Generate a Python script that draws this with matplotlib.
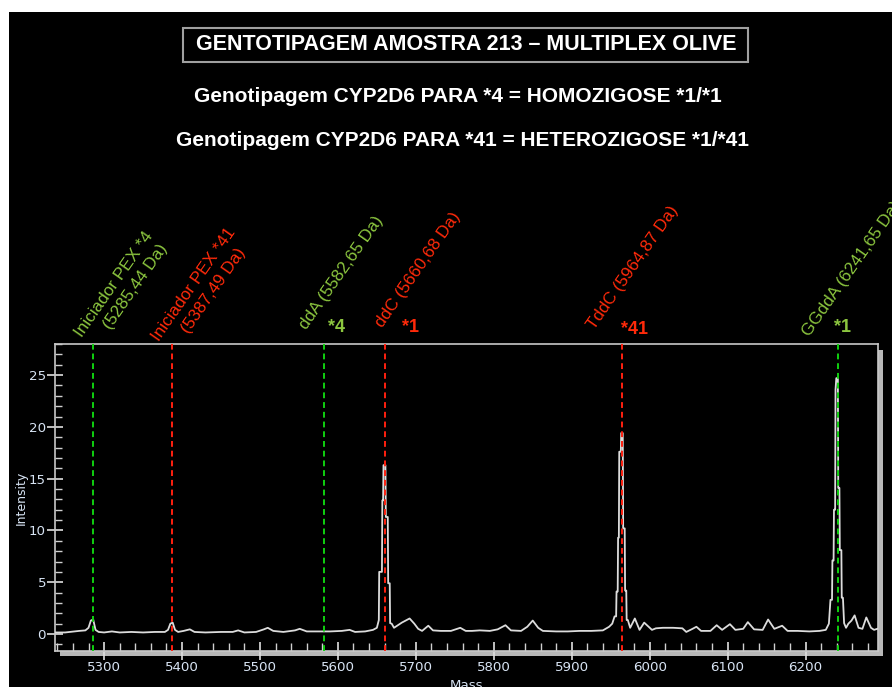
import matplotlib
matplotlib.use("Agg")
import matplotlib.pyplot as plt
from matplotlib.patches import Rectangle
from matplotlib.ticker import MultipleLocator

# ---------------- data ----------------
mass = [5237, 5250, 5268, 5276, 5280, 5283, 5286, 5289, 5293, 5300, 5310, 5320, 5335, 5350,
        5365, 5378, 5382, 5385, 5388, 5391, 5395, 5402, 5410, 5416, 5430, 5450, 5465, 5472,
        5480, 5495, 5505, 5510, 5517, 5530, 5545, 5551, 5560, 5575, 5590, 5605, 5615, 5622,
        5635, 5645,
        5650, 5652.5, 5653, 5656.5, 5657, 5658, 5658.5, 5661, 5661.5, 5664, 5664.5, 5666.5,
        5667, 5669, 5672,
        5676, 5682, 5687,
        5692, 5698, 5703, 5708, 5716, 5722, 5732, 5745, 5757, 5764, 5772, 5782, 5795, 5805,
        5815, 5822, 5835, 5843, 5850, 5857, 5863, 5880, 5895, 5910, 5925, 5940, 5948,
        5952, 5955, 5957, 5957.5, 5959, 5959.5, 5960.5, 5961, 5963, 5963.5, 5965.5, 5966,
        5968, 5968.5, 5970, 5970.5, 5972, 5975,
        5981, 5987, 5993, 6003, 6008,
        6017, 6030, 6042, 6047, 6055, 6060, 6066, 6078, 6086, 6093, 6103, 6110, 6120, 6126,
        6134, 6145, 6152, 6160, 6170, 6177, 6190, 6205, 6218,
        6226, 6230, 6232, 6234, 6234.5, 6236, 6236.5, 6238, 6238.5, 6239.5, 6241.5, 6242,
        6243.5, 6244, 6246, 6246.5, 6248, 6249.5, 6252,
        6255, 6259, 6263, 6268, 6273, 6278, 6284, 6288, 6292]
intensity = [0.15, 0.15, 0.3, 0.35, 0.6, 1.3, 1.4, 0.4, 0.2, 0.15, 0.25, 0.15, 0.2, 0.15,
             0.2, 0.2, 0.4, 1.0, 1.1, 0.4, 0.2, 0.3, 0.45, 0.2, 0.15, 0.2, 0.2, 0.35,
             0.15, 0.2, 0.45, 0.6, 0.3, 0.2, 0.35, 0.5, 0.25, 0.25, 0.25, 0.3, 0.4, 0.2,
             0.25, 0.4,
             0.6, 1.35, 6.0, 6.0, 12.9, 12.9, 16.3, 16.3, 11.3, 11.3, 4.9, 4.9,
             1.05, 1.0, 0.6,
             0.8, 1.1, 1.3,
             1.5, 1.0, 0.5, 0.3, 0.8, 0.35, 0.3, 0.3, 0.6, 0.3, 0.3, 0.35, 0.3, 0.45,
             0.85, 0.35, 0.3, 0.7, 1.3, 0.6, 0.3, 0.25, 0.25, 0.3, 0.3, 0.35, 0.7,
             1.0, 1.7, 1.7, 4.1, 4.1, 9.3, 9.3, 17.6, 17.6, 19.4, 19.4, 10.2,
             10.2, 4.2, 4.2, 1.35, 1.35, 0.6,
             1.5, 0.4, 1.1, 0.4, 0.55,
             0.6, 0.6, 0.55, 0.2, 0.5, 0.7, 0.3, 0.3, 0.85, 0.4, 0.95, 0.4, 0.5, 1.15,
             0.45, 0.4, 1.4, 0.5, 0.8, 0.3, 0.3, 0.25, 0.3,
             0.4, 1.0, 3.3, 3.3, 7.1, 7.1, 12.0, 12.0, 23.6, 24.7, 24.7, 14.1,
             14.1, 8.1, 8.1, 3.5, 3.5, 1.05, 0.6,
             1.0, 1.3, 1.8, 0.6, 0.5, 1.6, 0.6, 0.4, 0.5]

markers = [5285.44, 5387.49, 5582.65, 5660.68, 5964.87, 6241.65]
marker_kind = ["g", "r", "g", "r", "r", "g"]
marker_labels = ["Iniciador PEX *4\n(5285,44 Da)", "Iniciador PEX *41\n(5387,49 Da)",
                 "ddA (5582,65 Da)", "ddC (5660,68 Da)", "TddC (5964,87 Da)",
                 "GGddA (6241,65 Da)"]
allele_labels = ["", "", "*4", "*1", "*41", "*1"]

title = "GENTOTIPAGEM AMOSTRA 213 \u2013 MULTIPLEX OLIVE"
line2 = "Genotipagem CYP2D6 PARA *4 = HOMOZIGOSE *1/*1"
line3 = "Genotipagem CYP2D6 PARA *41 = HETEROZIGOSE *1/*41"

xticks_major = [5300, 5400, 5500, 5600, 5700, 5800, 5900, 6000, 6100, 6200]
yticks_major = [0, 5, 10, 15, 20, 25]

# ---------------- style ----------------
W, H = 892, 687
TXT_GREEN = "#8cc63f"
TXT_RED = "#ff2a0a"
LN_GREEN = "#10d010"
LN_RED = "#ff2010"
TICKCOL = "#d8e4f4"
FONT = "Liberation Sans"

fig = plt.figure(figsize=(W / 100, H / 100), dpi=100, facecolor="white")
fig.patches.append(Rectangle((9 / W, 0), 1, (H - 12) / H, transform=fig.transFigure,
                             facecolor="black", edgecolor="none", zorder=-5))

def fx(px):
    return px / W

def fy(py):
    return 1 - py / H

left, right, top, bottom = 55, 878, 344, 651
ax = fig.add_axes([fx(left), fy(bottom), fx(right - left), (bottom - top) / H])
ax.set_facecolor("black")
ax.set_xlim(5237, 6293)
ax.set_ylim(-1.64, 28.0)

# gray bars (3D shadow of frame)
fig.patches.append(Rectangle((fx(60), fy(656)), fx(883 - 60), 5 / H, transform=fig.transFigure,
                             facecolor="#b8b8b8", edgecolor="none", zorder=-1))
fig.patches.append(Rectangle((fx(878), fy(656)), fx(5), (656 - 350) / H, transform=fig.transFigure,
                             facecolor="#b8b8b8", edgecolor="none", zorder=-1))

for s in ax.spines.values():
    s.set_color("#c8c8c8")
    s.set_linewidth(1.2)

ax.plot(mass, intensity, color="#dcdcdc", lw=1.3, zorder=3)

for m, k in zip(markers, marker_kind):
    ax.axvline(m, color=LN_GREEN if k == "g" else LN_RED, lw=1.4,
               linestyle=(0, (3, 2)), zorder=4)

ax.xaxis.set_major_locator(MultipleLocator(100))
ax.xaxis.set_minor_locator(MultipleLocator(20))
ax.yaxis.set_major_locator(MultipleLocator(5))
ax.yaxis.set_minor_locator(MultipleLocator(1))
ax.set_xticks(xticks_major)
ax.set_yticks(yticks_major)
ax.tick_params(axis="both", which="major", direction="inout", color="#e0e0e0",
               labelcolor=TICKCOL, labelsize=9.6, width=1.2)
ax.tick_params(axis="x", which="major", length=13, pad=1)
ax.tick_params(axis="y", which="major", length=11, pad=1)
ax.tick_params(axis="both", which="minor", direction="in", color="#d0d0d0", width=1)
ax.tick_params(axis="x", which="minor", length=6)
ax.tick_params(axis="y", which="minor", length=5)
for lab in ax.get_xticklabels() + ax.get_yticklabels():
    lab.set_family("DejaVu Sans")

ax.set_ylabel("Intensity", color=TICKCOL, fontsize=9, labelpad=1)
ax.set_xlabel("Mass", color=TICKCOL, fontsize=9.6, labelpad=3)

# header texts
fig.patches.append(Rectangle((fx(183), fy(62)), fx(748 - 183), 34 / H, transform=fig.transFigure,
                             facecolor="none", edgecolor="#a0a0a0", lw=1.5, zorder=2))
fig.text(fx(466), fy(45), title, color="white", fontsize=15.5, fontweight="bold",
         family=FONT, ha="center", va="center")
fig.text(fx(458), fy(97), line2, color="white", fontsize=15, fontweight="bold",
         family=FONT, ha="center", va="center")
fig.text(fx(463), fy(140), line3, color="white", fontsize=15, fontweight="bold",
         family=FONT, ha="center", va="center")

# rotated annotations (offset in pixels from marker line at top of axes)
label_offsets = [(-11, 6), (-13, 2), (-18, 14), (-3, 16), (-28, 14), (-28, 7)]
allele_offsets = [None, None, (12, 17), (25, 17), (12, 14), (5, 17)]
px2pt = 0.72
for m, k, lab, al, lo, ao in zip(markers, marker_kind, marker_labels, allele_labels,
                                  label_offsets, allele_offsets):
    col = TXT_GREEN if k == "g" else TXT_RED
    lines = lab.split("\n")
    for i, ln in enumerate(lines):
        dx = lo[0] + i * 29
        dy = lo[1] + i * 8
        ax.annotate(ln, xy=(m, 1.0), xycoords=("data", "axes fraction"),
                    xytext=(dx * px2pt, dy * px2pt), textcoords="offset points",
                    rotation=55, rotation_mode="anchor", ha="left", va="baseline",
                    color=col, fontsize=12.3, family=FONT, annotation_clip=False)
    if al:
        ax.annotate(al, xy=(m, 1.0), xycoords=("data", "axes fraction"),
                    xytext=(ao[0] * px2pt, ao[1] * px2pt), textcoords="offset points",
                    ha="center", va="center", color=col, fontsize=13,
                    fontweight="bold", family=FONT, annotation_clip=False)

fig.savefig("out.png", dpi=100, facecolor=fig.get_facecolor())
